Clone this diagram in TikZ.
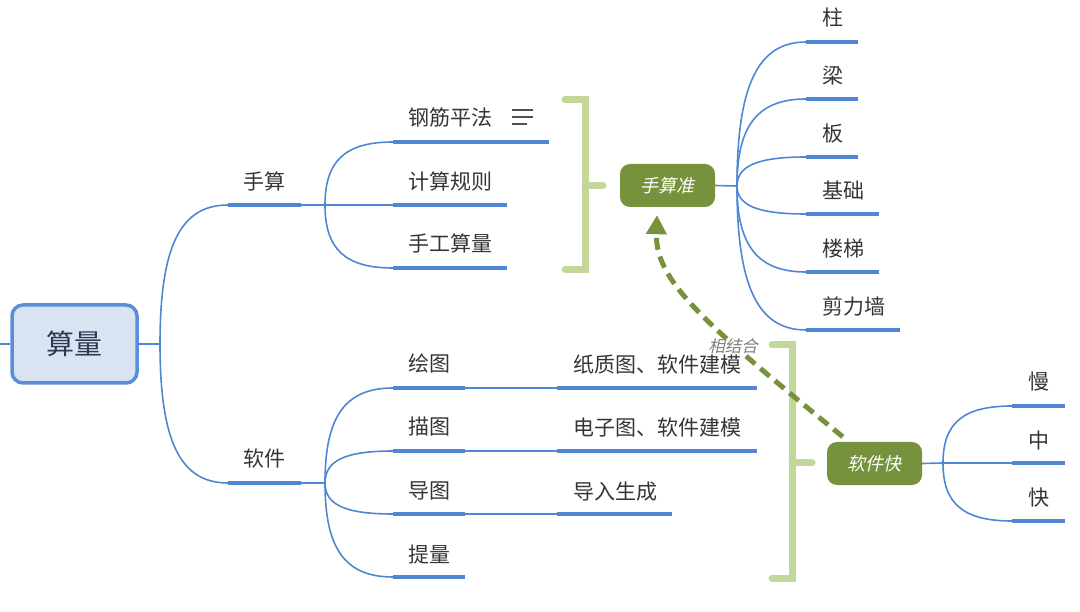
\documentclass[tikz,border=0pt]{standalone}
\usepackage{fontspec}
\setmainfont{Noto Sans CJK SC}
\newfontfamily\cjkit[FakeSlant=0.22]{Noto Sans CJK SC}
\usetikzlibrary{arrows.meta}
\definecolor{lineblue}{HTML}{4F87D4}
\definecolor{rootborder}{HTML}{5A8ED8}
\definecolor{rootfill}{HTML}{DAE3F1}
\definecolor{roottext}{HTML}{2B3A52}
\definecolor{txt}{HTML}{353535}
\definecolor{ngreen}{HTML}{76923C}
\definecolor{bgreen}{HTML}{C4D79B}
\definecolor{lblgray}{HTML}{7F7F7F}
\definecolor{icongray}{HTML}{505050}
\tikzset{
  lab/.style={font=\fontsize{21}{24}\selectfont, text=txt, inner sep=0pt, text height=16pt, text depth=0pt, anchor=west},
  ul/.style={draw=lineblue, line width=4pt},
  br/.style={draw=lineblue, line width=1.6pt},
  rootbox/.style={draw=rootborder, line width=3.5pt, fill=rootfill, rounded corners=11pt, minimum width=125pt, minimum height=78pt, inner sep=0pt, text=roottext, font=\fontsize{28}{30}\selectfont, text height=21.3pt, text depth=0pt},
  gnode/.style={rounded corners=10pt, fill=ngreen, text=white, font=\cjkit\fontsize{18}{20}\selectfont, minimum width=95pt, minimum height=43pt, inner sep=0pt, text height=13.7pt, text depth=0pt},
  bracket/.style={draw=bgreen, line width=7pt, line cap=round},
  iconline/.style={draw=icongray, line width=2pt},
  dasharrow/.style={draw=ngreen, line width=5pt, dash pattern=on 12pt off 7pt, -{Triangle[length=19pt,width=20pt]}},
  rel/.style={font=\cjkit\fontsize{16.5}{18}\selectfont, text=lblgray, fill=white, inner xsep=1pt, inner ysep=1pt, text height=12.5pt, text depth=0pt}
}
\begin{document}
\begin{tikzpicture}[x=1pt,y=-1pt]
\useasboundingbox (0,0) rectangle (1080,612);
% root
\node[rootbox] (root) at (74.5,344) {算量};
\coordinate (lft) at (0,344);
\coordinate (b0) at (160,344);
\draw[br] (lft) -- (root.west);
\draw[br] (root.east) -- (b0);

% level 1: 手算
\coordinate (s1a) at (228,205); \coordinate (s1b) at (301,205); \coordinate (b1) at (325,205);
\node[lab] (s1) at (243,182) {手算};
\draw[br] (b0) .. controls (160,247) and (180,205) .. (s1a);
\draw[ul] (s1a) -- (s1b);
\draw[br] (s1b) -- (b1);

% children of 手算
\coordinate (c11a) at (393,142); \coordinate (c11b) at (549,142);
\coordinate (c12a) at (393,205); \coordinate (c12b) at (507,205);
\coordinate (c13a) at (393,268); \coordinate (c13b) at (507,268);
\node[lab] (c11) at (408,118) {钢筋平法};
\node[lab] (c12) at (408,182) {计算规则};
\node[lab] (c13) at (408,244) {手工算量};
\draw[br] (b1) .. controls (325,161) and (345,142) .. (c11a);
\draw[br] (b1) -- (c12a);
\draw[br] (b1) .. controls (325,249) and (345,268) .. (c13a);
\draw[ul] (c11a) -- (c11b);
\draw[ul] (c12a) -- (c12b);
\draw[ul] (c13a) -- (c13b);
% note icon
\draw[iconline] (512,110.5) -- (533,110.5);
\draw[iconline] (512,117) -- (533,117);
\draw[iconline] (512,124) -- (527,124);

% bracket 1
\draw[bracket] (565,100) -- (585,100) -- (585,270) -- (565,270);
\draw[bracket] (585,186) -- (603,186);

% 手算准
\node[gnode] (ssz) at (667.5,185.5) {手算准};
\coordinate (b3) at (737,186);
\draw[br] (ssz.east) -- (b3);
\foreach \n/\y/\e/\ty/\t in {z1/42/858/18/柱, z2/99/858/76/梁, z3/157/858/134/板, z4/214/879/191/基础, z5/272/879/249/楼梯, z6/330/900/307/剪力墙}{
  \coordinate (\n a) at (806,\y);
  \coordinate (\n b) at (\e,\y);
  \node[lab] (\n) at (822,\ty) {\t};
  \pgfmathsetmacro{\cy}{186+0.7*(\y-186)}
  \draw[br] (b3) .. controls (737,\cy) and (758,\y) .. (\n a);
  \draw[ul] (\n a) -- (\n b);
}

% level 1: 软件
\coordinate (s2a) at (228,483); \coordinate (s2b) at (301,483); \coordinate (b2) at (325,483);
\node[lab] (s2) at (243,459) {软件};
\draw[br] (b0) .. controls (160,441) and (180,483) .. (s2a);
\draw[ul] (s2a) -- (s2b);
\draw[br] (s2b) -- (b2);

% children of 软件
\foreach \n/\y/\ty/\t in {d1/388/364/绘图, d2/451/427/描图, d3/514/490/导图, d4/577/554/提量}{
  \coordinate (\n a) at (393,\y);
  \coordinate (\n b) at (465,\y);
  \node[lab] (\n) at (408,\ty) {\t};
  \pgfmathsetmacro{\cy}{483+0.7*(\y-483)}
  \draw[br] (b2) .. controls (325,\cy) and (345,\y) .. (\n a);
  \draw[ul] (\n a) -- (\n b);
}
% grandchildren
\foreach \p/\n/\y/\e/\ty/\t in {d1/e1/388/757/365/纸质图、软件建模, d2/e2/451/757/428/电子图、软件建模, d3/e3/514/672/491/导入生成}{
  \coordinate (\n a) at (557,\y);
  \coordinate (\n b) at (\e,\y);
  \node[lab] (\n) at (573,\ty) {\t};
  \draw[br] (\p b) -- (\n a);
  \draw[ul] (\n a) -- (\n b);
}

% bracket 2
\draw[bracket] (772,345) -- (792,345) -- (792,578) -- (772,578);
\draw[bracket] (792,463) -- (812,463);

% 软件快
\node[gnode] (rjk) at (874.5,463.5) {软件快};
\coordinate (b4) at (943,463);
\draw[br] (rjk.east) -- (b4);
\foreach \n/\y/\ty/\t in {f1/406/382/慢, f2/463/441/中, f3/521/497/快}{
  \coordinate (\n a) at (1012,\y);
  \coordinate (\n b) at (1065,\y);
  \node[lab] (\n) at (1028,\ty) {\t};
  \pgfmathsetmacro{\cy}{463+0.7*(\y-463)}
  \draw[br] (b4) .. controls (943,\cy) and (963,\y) .. (\n a);
  \draw[ul] (\n a) -- (\n b);
}

% relationship
\draw[dasharrow] ([shift={(16,-5)}]rjk.north west) .. controls (700,320) and (655,280) .. ([shift={(-10.5,8)}]ssz.south);
\node[rel] (relbl) at (733,346) {相结合};
\end{tikzpicture}
\end{document}
